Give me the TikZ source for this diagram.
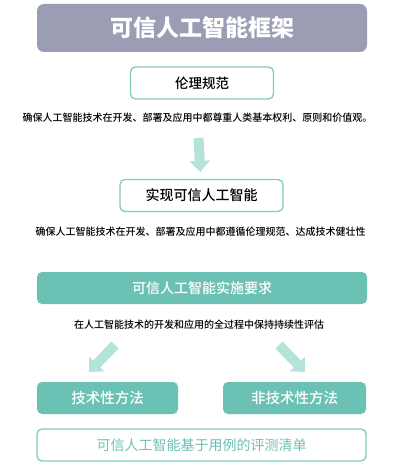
\documentclass[tikz,border=0pt]{standalone}
\usepackage{fontspec}
\newfontfamily\cjk{Noto Sans CJK SC}
\newfontfamily\cjkmed{Noto Sans CJK SC Medium}
\usetikzlibrary{arrows.meta}
\definecolor{titlegrey}{HTML}{9B9DB5}
\definecolor{teal1}{HTML}{6CC1B5}
\definecolor{teal2}{HTML}{7FCBBC}
\definecolor{arrowteal}{HTML}{B3E3D9}
\tikzset{
	headbox/.style={rounded corners=7pt,fill=titlegrey,text=white,font=\cjk\bfseries\fontsize{23}{26}\selectfont,minimum height=48pt},
	linebox/.style={rounded corners=5pt,draw=teal2,line width=1.3pt,fill=white,font=\cjkmed\fontsize{14}{16}\selectfont,minimum height=32pt},
	fillbox/.style={rounded corners=5pt,fill=teal1,text=white,font=\cjkmed\fontsize{14}{16}\selectfont,minimum height=32pt},
	note/.style={font=\cjkmed\fontsize{10}{12}\selectfont,inner sep=1pt},
	bigarrow/.style={draw=arrowteal,line width=10pt,-{Triangle[width=20pt,length=11pt]}}
}
\begin{document}
\begin{tikzpicture}[x=1pt,y=-1pt]
	\useasboundingbox[fill=white] (0,0) rectangle (400,468);

	% title
	\node[headbox,minimum width=330pt] (title) at (202,28) {可信人工智能框架};

	% ethics
	\node[linebox,minimum width=143pt,font=\cjkmed\fontsize{13.5}{15}\selectfont] (ethics) at (202,83) {伦理规范};
	\node[note] (ethicsnote) at (197.5,118) {确保人工智能技术在开发、部署及应用中都尊重人类基本权利、原则和价值观。};

	% trustworthy
	\node[linebox,minimum width=163pt] (trust) at (201.5,195.5) {实现可信人工智能};
	\node[note] (trustnote) at (200.5,232) {确保人工智能技术在开发、部署及应用中都遵循伦理规范、达成技术健壮性};
	\draw[bigarrow,shorten <=14pt,shorten >=7pt] (ethicsnote) -- (trust);

	% requirements
	\node[fillbox,minimum width=330pt] (req) at (202,288) {可信人工智能实施要求};
	\node[note] (reqnote) at (199,325) {在人工智能技术的开发和应用的全过程中保持持续性评估};

	% methods
	\node[fillbox,minimum width=141pt,font=\cjkmed\fontsize{14.5}{16}\selectfont] (tech) at (107.5,398) {技术性方法};
	\node[fillbox,minimum width=143pt,font=\cjkmed\fontsize{14.5}{16}\selectfont] (nontech) at (294.5,398) {非技术性方法};
	\coordinate (la) at (115,345);
	\coordinate (lb) at (89,372);
	\coordinate (ra) at (279,345);
	\coordinate (rb) at (305,372);
	\draw[bigarrow] (la) -- (lb);
	\draw[bigarrow] (ra) -- (rb);

	% checklist
	\node[linebox,minimum width=329pt,text=teal1,font=\cjk\fontsize{14}{16}\selectfont] (check) at (201.5,445) {可信人工智能基于用例的评测清单};
\end{tikzpicture}
\end{document}
